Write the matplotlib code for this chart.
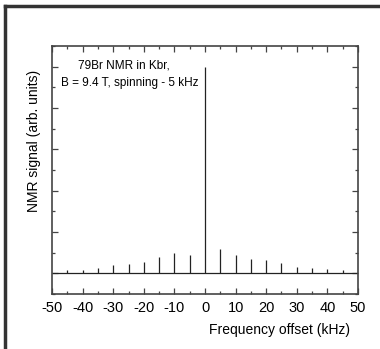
import matplotlib
matplotlib.use('Agg')
import matplotlib.pyplot as plt
from matplotlib.lines import Line2D
from matplotlib.ticker import MultipleLocator, NullFormatter

plt.rcParams['font.family'] = ['Liberation Sans', 'DejaVu Sans']
plt.rcParams['axes.unicode_minus'] = False

# spinning sideband positions (kHz) and heights (arb. units, central line = 1)
freqs = [-45, -40, -35, -30, -25, -20, -15, -10, -5, 0,
         5, 10, 15, 20, 25, 30, 35, 40, 45]
heights = [0.016, 0.016, 0.026, 0.039, 0.047, 0.052, 0.079, 0.097, 0.087, 1.0,
           0.119, 0.086, 0.069, 0.064, 0.048, 0.028, 0.024, 0.019, 0.014]
xticks = [-50, -40, -30, -20, -10, 0, 10, 20, 30, 40, 50]

fig = plt.figure(figsize=(3.8, 3.49), dpi=100)
ax = fig.add_axes([0.137, 0.158, 0.805, 0.71])

ax.hlines(0, -50, 50, color='#222222', lw=0.9)
ax.vlines(freqs, 0, heights, color='#222222', lw=0.9)

ax.set_xlim(-50, 50)
ax.set_ylim(-0.1, 1.1)
ax.set_xticks(xticks)
ax.xaxis.set_minor_locator(MultipleLocator(5))
ax.yaxis.set_major_locator(MultipleLocator(0.2))
ax.yaxis.set_minor_locator(MultipleLocator(0.1))
ax.yaxis.set_major_formatter(NullFormatter())
ax.tick_params(which='both', direction='in', top=True, right=True,
               color='#444444', labelsize=10.5, pad=5)
ax.tick_params(which='major', length=4, width=0.9)
ax.tick_params(which='minor', length=2, width=0.9)
for s in ax.spines.values():
    s.set_color('#444444')
    s.set_linewidth(1.2)

fig.text(0.92, 0.055, 'Frequency offset (kHz)', ha='right', va='center', fontsize=10)
fig.text(0.09, 0.595, 'NMR signal (arb. units)', rotation=90,
         ha='center', va='center', fontsize=10)

ax.text(-26.5, 1.005, '79Br NMR in Kbr,', ha='center', va='center', fontsize=8.5)
ax.text(-24.5, 0.923, 'B = 9.4 T, spinning - 5 kHz', ha='center', va='center', fontsize=8.5)

# outer frame (top and left edges)
fig.add_artist(Line2D([0.014, 0.014], [0, 0.983], transform=fig.transFigure,
                      color='#333333', lw=2.5))
fig.add_artist(Line2D([0.014, 1.0], [0.983, 0.983], transform=fig.transFigure,
                      color='#333333', lw=2.5))

fig.savefig('out.png', dpi=100)
